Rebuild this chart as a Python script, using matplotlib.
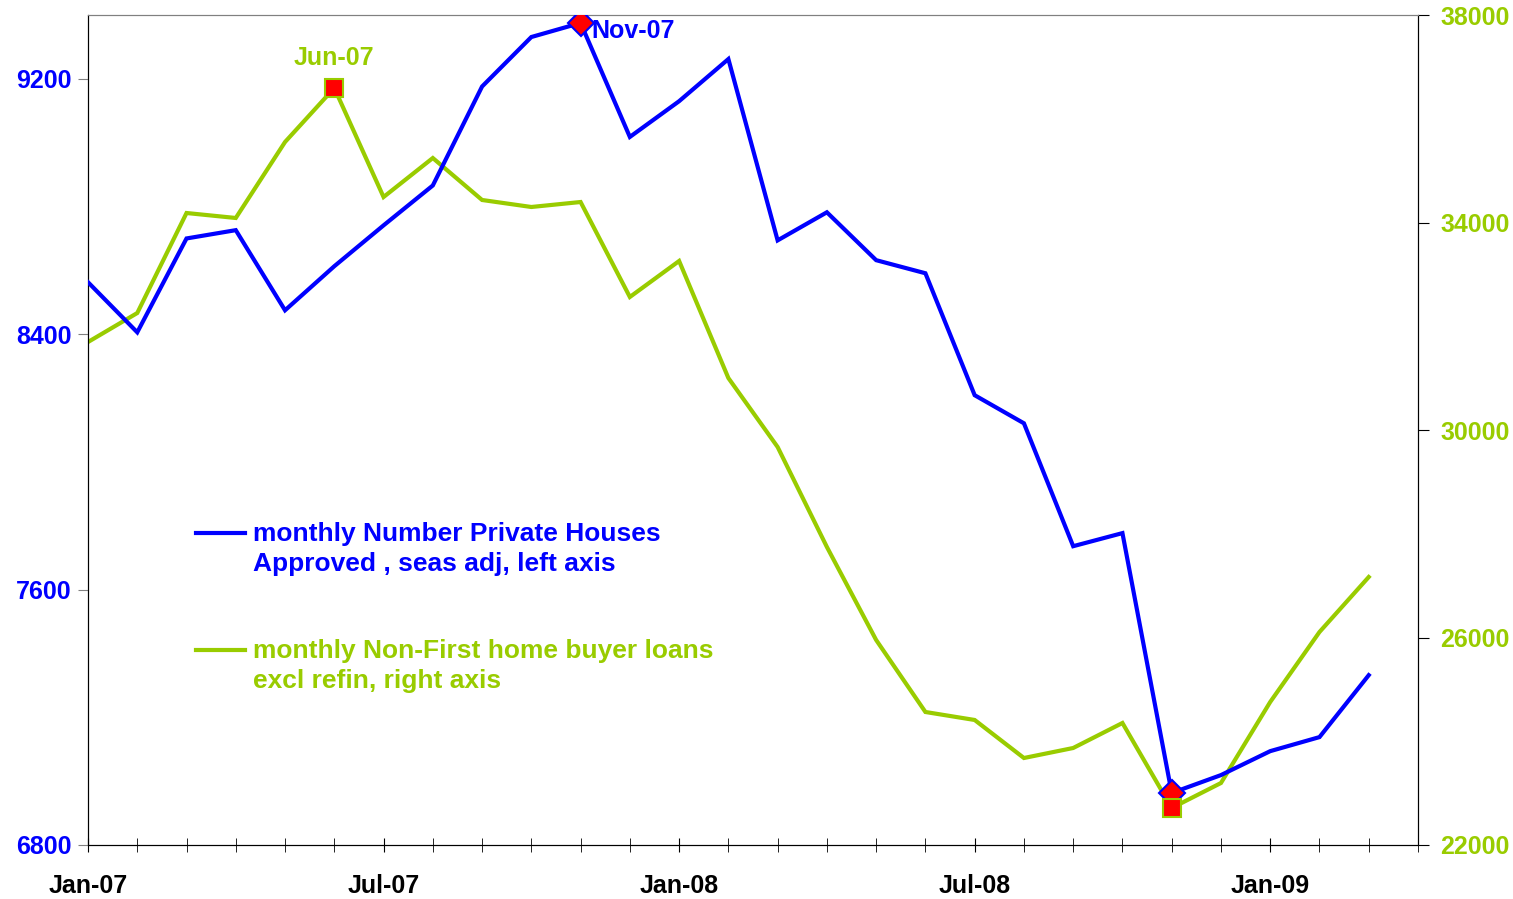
import matplotlib
matplotlib.use("Agg")
import matplotlib.pyplot as plt
from matplotlib.ticker import MultipleLocator

plt.rcParams['font.family'] = ['Liberation Sans', 'DejaVu Sans']
plt.rcParams['font.weight'] = 'bold'

# months from Jan-07 to Mar-09
months = ['Jan-07', 'Feb-07', 'Mar-07', 'Apr-07', 'May-07', 'Jun-07', 'Jul-07', 'Aug-07',
          'Sep-07', 'Oct-07', 'Nov-07', 'Dec-07', 'Jan-08', 'Feb-08', 'Mar-08', 'Apr-08',
          'May-08', 'Jun-08', 'Jul-08', 'Aug-08', 'Sep-08', 'Oct-08', 'Nov-08', 'Dec-08',
          'Jan-09', 'Feb-09', 'Mar-09']
houses = [8563, 8406, 8700, 8726, 8475, 8613, 8741, 8866, 9176, 9331, 9375, 9018, 9130,
          9262, 8694, 8782, 8632, 8591, 8209, 8121, 7736, 7777, 6963, 7019, 7094, 7138, 7332]
loans = [31696, 32255, 34183, 34087, 35552, 36593, 34491, 35243, 34434, 34299, 34395, 32564,
         33258, 31002, 29672, 27745, 25952, 24564, 24410, 23677, 23870, 24352, 22713, 23195,
         24757, 26106, 27166]
tick_labels = ['Jan-07', 'Jul-07', 'Jan-08', 'Jul-08', 'Jan-09']
left_ticks = [6800, 7600, 8400, 9200]
right_ticks = [22000, 26000, 30000, 34000, 38000]

blue = '#0000FF'
green = '#99CC00'

x = list(range(len(months)))

fig = plt.figure(figsize=(15.13, 8.99), dpi=100)
ax = fig.add_axes([88/1513, 54/899, (1418-88)/1513, (845-15)/899])
ax2 = ax.twinx()

ax.plot(x, houses, color=blue, lw=3, zorder=3, solid_joinstyle='miter')
ax2.plot(x, loans, color=green, lw=3, zorder=2, solid_joinstyle='miter')
ax.set_zorder(2)
ax.patch.set_visible(False)

ax.set_xlim(0, 27)
ax.set_ylim(6800, 9400)
ax2.set_ylim(22000, 38000)

# highlight peaks and trough
hi = houses.index(max(houses))
lo = houses.index(min(houses))
ax.plot([hi, lo], [houses[hi], houses[lo]], ls='none', marker='D', ms=13,
        mfc='red', mec=blue, mew=1.5, zorder=5)
ax.annotate(months[hi], (hi, houses[hi]), xytext=(8, -6), textcoords='offset points',
            color=blue, fontsize=18, fontweight='bold', va='center', ha='left')
ghi = loans.index(max(loans))
glo = loans.index(min(loans))
# drawn on the front axes with the right-axis scale so the squares sit on top
ax.plot([ghi, glo], [loans[ghi], loans[glo]], ls='none', marker='s', ms=13.5,
        mfc='red', mec=green, mew=1.5, zorder=6, transform=ax2.transData)
ax2.annotate(months[ghi], (ghi, loans[ghi]), xytext=(0, 13), textcoords='offset points',
             color=green, fontsize=18, fontweight='bold', va='bottom', ha='center')

ax.set_xticks([0, 6, 12, 18, 24])
ax.set_xticklabels(tick_labels)
ax.xaxis.set_minor_locator(MultipleLocator(1))
ax.tick_params(axis='x', which='both', direction='inout', length=10, pad=16,
               labelsize=18, labelcolor='black')
ax.set_yticks(left_ticks)
ax.tick_params(axis='y', direction='out', length=7, color='#808080',
               labelsize=18, labelcolor=blue, pad=5)
ax2.set_yticks(right_ticks)
ax2.tick_params(axis='y', direction='out', length=8, labelsize=18, labelcolor=green, pad=8)
for lab in ax.get_xticklabels() + ax.get_yticklabels() + ax2.get_yticklabels():
    lab.set_fontweight('bold')

for a in (ax, ax2):
    a.spines['top'].set_color('#808080')
    a.spines['left'].set_color('black')
    a.spines['right'].set_color('black')
    a.spines['bottom'].set_color('black')

# legend drawn by hand in axes coordinates
ax.plot([0.081, 0.118], [0.376, 0.376], transform=ax.transAxes, color=blue, lw=3)
ax.text(0.124, 0.389, 'monthly Number Private Houses\nApproved , seas adj, left axis',
        transform=ax.transAxes, color=blue, fontsize=19, fontweight='bold',
        va='top', ha='left', linespacing=1.32)
ax.plot([0.081, 0.118], [0.235, 0.235], transform=ax.transAxes, color=green, lw=3)
ax.text(0.124, 0.248, 'monthly Non-First home buyer loans\nexcl refin, right axis',
        transform=ax.transAxes, color=green, fontsize=19, fontweight='bold',
        va='top', ha='left', linespacing=1.32)

fig.savefig('out.png', dpi=100)
